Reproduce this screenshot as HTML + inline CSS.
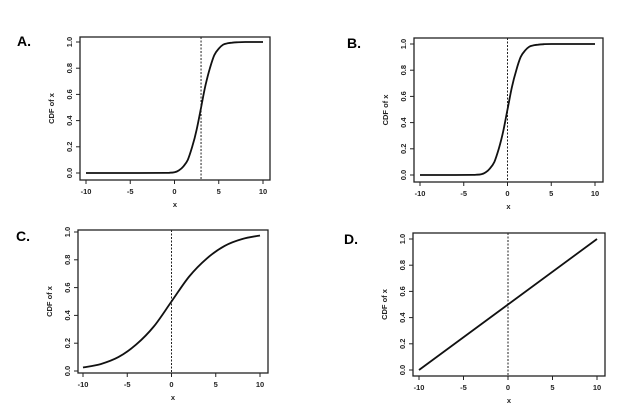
<!DOCTYPE html>
<html><head><meta charset="utf-8"><style>
body{margin:0;background:#fff;}
svg{display:block;font-family:"Liberation Sans",sans-serif;}
</style></head><body>
<svg id="chart" width="641" height="409" viewBox="0 0 641 409"></svg>
<script>
const xTicks = [-10, -5, 0, 5, 10];
const yTicks = [0.0, 0.2, 0.4, 0.6, 0.8, 1.0];
const yTickLabels = ["0.0", "0.2", "0.4", "0.6", "0.8", "1.0"];
const panelLabels = ["A.", "B.", "C.", "D."];
const vlineX = [3, 0, 0, 0];
const aX = [-10, -5, -1, -0.5, 0, 0.5, 1, 1.5, 2, 2.5, 3, 3.5, 4, 4.5, 5, 5.5, 6, 6.5, 7, 8, 10];
const aY = [0, 0, 0.001, 0.002, 0.005, 0.02, 0.05, 0.1, 0.2, 0.33, 0.5, 0.67, 0.8, 0.9, 0.95, 0.98, 0.99, 0.995, 0.998, 1, 1];
const bX = [-10, -6, -4, -3.5, -3, -2.5, -2, -1.5, -1, -0.5, 0, 0.5, 1, 1.5, 2, 2.5, 3, 3.5, 4, 5, 10];
const bY = [0, 0, 0.001, 0.002, 0.005, 0.02, 0.05, 0.1, 0.2, 0.33, 0.5, 0.67, 0.8, 0.9, 0.95, 0.98, 0.99, 0.995, 0.998, 1, 1];
const cX = [-10, -8, -6, -4, -2, 0, 2, 4, 6, 8, 10];
const cY = [0.025, 0.05, 0.1, 0.19, 0.32, 0.5, 0.68, 0.81, 0.9, 0.95, 0.975];
const dX = [-10, 10];
const dY = [0, 1];
const seriesX = [aX, bX, cX, dX];
const seriesY = [aY, bY, cY, dY];
const layouts = [
 {bx0:80,bx1:270,by0:37,by1:180,px0:86,px1:263,py0:173,py1:42,lx:17,ly:46},
 {bx0:414,bx1:603,by0:38,by1:182,px0:420,px1:595,py0:175,py1:44,lx:347,ly:48},
 {bx0:78,bx1:268,by0:230,by1:373,px0:83,px1:260,py0:371,py1:232,lx:16,ly:241},
 {bx0:413,bx1:605,by0:233,by1:376,px0:419,px1:597,py0:370,py1:239,lx:344,ly:244}
];
const svg = document.getElementById('chart');
const NS = 'http://www.w3.org/2000/svg';
function mk(tag, attrs, parent){const e=document.createElementNS(NS,tag);for(const k in attrs)e.setAttribute(k,attrs[k]);parent.appendChild(e);return e;}
function smoothPath(p){
  let d='M'+p[0][0].toFixed(1)+','+p[0][1].toFixed(1);
  for(let k=0;k<p.length-1;k++){
    const p0=p[k-1]||p[k],p1=p[k],p2=p[k+1],p3=p[k+2]||p2;
    const c1=[p1[0]+(p2[0]-p0[0])/6,p1[1]+(p2[1]-p0[1])/6];
    const c2=[p2[0]-(p3[0]-p1[0])/6,p2[1]-(p3[1]-p1[1])/6];
    d+=` C${c1[0].toFixed(1)},${c1[1].toFixed(1)} ${c2[0].toFixed(1)},${c2[1].toFixed(1)} ${p2[0].toFixed(1)},${p2[1].toFixed(1)}`;
  }
  return d;
}
const ids=['a','b','c','d'];
layouts.forEach((L,i)=>{
  const g=mk('g',{},svg);
  
  
  const sx=v=>L.px0+(v+10)/20*(L.px1-L.px0);
  const sy=v=>L.py0+v*(L.py1-L.py0);
  const lab=mk('text',{x:L.lx,y:L.ly,'font-size':14,'font-weight':'bold'},g);
  lab.textContent=panelLabels[i];
  
  
  const box=mk('rect',{x:L.bx0,y:L.by0,width:L.bx1-L.bx0,height:L.by1-L.by0,fill:'none',stroke:'#222','stroke-width':1.3},g);
  
  
  xTicks.forEach(t=>{
    const x=sx(t);
    mk('line',{x1:x,x2:x,y1:L.by1,y2:L.by1+4,stroke:'#222'},g);
    const tx=mk('text',{x:x,y:L.by1+14,'font-size':7.5,'font-weight':'bold','text-anchor':'middle',fill:'#222'},g);
    tx.textContent=t;
    
    
  });
  yTicks.forEach((t,j)=>{
    const y=sy(t);
    mk('line',{x1:L.bx0,x2:L.bx0-4,y1:y,y2:y,stroke:'#222'},g);
    const tx=mk('text',{x:0,y:0,'font-size':7.5,'font-weight':'bold','text-anchor':'middle',fill:'#222',transform:`translate(${L.bx0-8},${y}) rotate(-90)`},g);
    tx.textContent=yTickLabels[j];
    
    
  });
  const xt=mk('text',{x:(L.bx0+L.bx1)/2,y:L.by1+27,'font-size':7.5,'font-weight':'bold','text-anchor':'middle',fill:'#222'},g);
  xt.textContent='x';
  
  
  const yt=mk('text',{x:0,y:0,'font-size':7.5,'font-weight':'bold','text-anchor':'middle',fill:'#222',transform:`translate(${L.bx0-26},${(L.by0+L.by1)/2}) rotate(-90)`},g);
  yt.textContent='CDF of x';
  
  
  const vx=sx(vlineX[i]);
  const vl=mk('line',{x1:vx,x2:vx,y1:L.by0,y2:L.by1,stroke:'#222','stroke-width':1,'stroke-dasharray':'2,1.5'},g);
  
  
  const pts=seriesX[i].map((v,k)=>[sx(v),sy(seriesY[i][k])]);
  const pl=mk('path',{d:smoothPath(pts),fill:'none',stroke:'#111','stroke-width':1.8,'stroke-linejoin':'round'},g);
  
  
});
</script>
</body></html>
